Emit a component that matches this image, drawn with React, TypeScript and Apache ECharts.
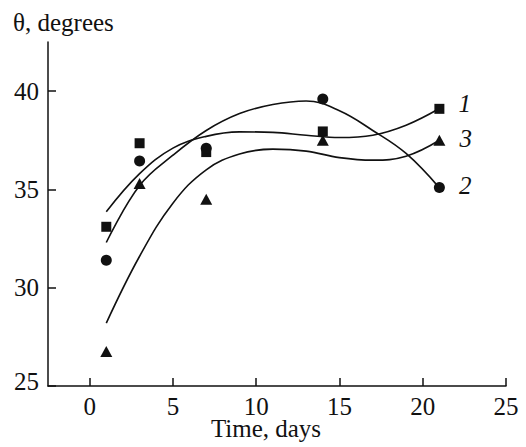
import React, { useEffect, useRef } from "react";
import * as echarts from "echarts";

// Measured points (days, degrees)
const days = [1, 3, 7, 14, 21];
const series1Points = [33.1, 37.35, 36.9, 37.95, 39.1]; // squares, curve 1
const series2Points = [31.4, 36.45, 37.1, 39.6, 35.1]; // circles, curve 2
const series3Points = [26.75, 35.3, 34.5, 37.5, 37.5]; // triangles, curve 3

// Fitted curves
const curveDays = [1, 3, 5, 7, 9, 11, 13, 15, 17, 19, 21];
const curve1 = [33.86, 35.8, 37.1, 37.7, 37.93, 37.9, 37.76, 37.64, 37.76, 38.27, 39.12];
const curve2 = [32.3, 35.2, 36.74, 38.0, 38.86, 39.32, 39.5, 39.0, 38.0, 36.83, 35.08];
const curve3 = [28.2, 31.6, 34.3, 36.0, 36.8, 37.05, 36.95, 36.62, 36.49, 36.69, 37.5];

const xTicks = [0, 5, 10, 15, 20, 25];
const seriesLabels = ["1", "2", "3"];

const FONT = "'Liberation Serif', 'Times New Roman', Times, serif";
const INK = "#111";

export default function App() {
  const ref = useRef<HTMLDivElement>(null);
  useEffect(() => {
    if (!ref.current) return;
    const chart = echarts.init(ref.current, null, { renderer: "svg" });
    const pts = (ys: number[], label: string, off: number[]) =>
      days.map((d, i) =>
        i === days.length - 1
          ? {
              value: [d, ys[i]],
              label: {
                show: true,
                formatter: label,
                position: "right",
                distance: 14,
                offset: off,
                fontFamily: FONT,
                fontStyle: "italic",
                fontSize: 25,
                color: INK,
              },
            }
          : { value: [d, ys[i]] }
      );
    const line = (ys: number[]) => ({
      type: "line",
      data: curveDays.map((d, i) => [d, ys[i]]),
      smooth: 0.4,
      symbol: "none",
      lineStyle: { color: INK, width: 1.6 },
      z: 2,
    });
    const dots = (ys: number[], label: string, off: number[], symbol: string, size: any) => ({
      type: "scatter",
      data: pts(ys, label, off),
      symbol,
      symbolSize: size,
      itemStyle: { color: INK, opacity: 1 },
      z: 3,
    });
    chart.setOption({
      animation: false,
      title: [
        {
          text: "θ, degrees",
          left: 8,
          top: 5,
          textStyle: { fontFamily: FONT, fontWeight: "normal", fontSize: 25, color: INK },
        },
      ],
      grid: { left: 48, right: 20, top: 42, bottom: 61, containLabel: false, outerBoundsMode: "none" },
      xAxis: {
        type: "value",
        min: -2.5,
        max: 25,
        name: "Time, days",
        nameLocation: "middle",
        nameGap: 35,
        nameMoveOverlap: false,
        nameTextStyle: { fontFamily: FONT, fontSize: 25, lineHeight: 14, color: INK, padding: [0, 22, 0, 0] },
        axisLine: { show: true, onZero: false, lineStyle: { color: INK, width: 1.5 } },
        axisTick: { show: true, inside: true, length: 8, customValues: xTicks, lineStyle: { color: INK, width: 1.5 } },
        axisLabel: { customValues: xTicks, margin: 13, lineHeight: 14, fontFamily: FONT, fontSize: 25, color: INK },
        splitLine: { show: false },
      },
      yAxis: {
        type: "value",
        min: 25,
        max: 42.5,
        interval: 5,
        axisLine: { show: true, onZero: false, lineStyle: { color: INK, width: 1.5 } },
        axisTick: { show: true, inside: true, length: 8, lineStyle: { color: INK, width: 1.5 } },
        axisLabel: {
          margin: 9,
          fontFamily: FONT,
          fontSize: 25,
          color: INK,
          showMaxLabel: false,
          formatter: (v: number) => (v === 25 ? "{low|25}" : v % 5 === 0 ? String(v) : ""),
          rich: {
            low: { fontFamily: FONT, fontSize: 25, color: INK, padding: [0, 0, 10, 0] },
          },
        },
        splitLine: { show: false },
      },
      series: [
        line(curve1),
        line(curve2),
        line(curve3),
        dots(series1Points, seriesLabels[0], [0, -5], "rect", 10),
        dots(series2Points, seriesLabels[1], [0, -2], "circle", 11),
        dots(series3Points, seriesLabels[2], [0, -2], "triangle", [12, 11]),
      ],
    });
    return () => chart.dispose();
  }, []);
  return (
    <div
      ref={ref}
      style={{ position: "absolute", left: 0, top: 0, width: 526, height: 447, background: "#fff" }}
    />
  );
}
